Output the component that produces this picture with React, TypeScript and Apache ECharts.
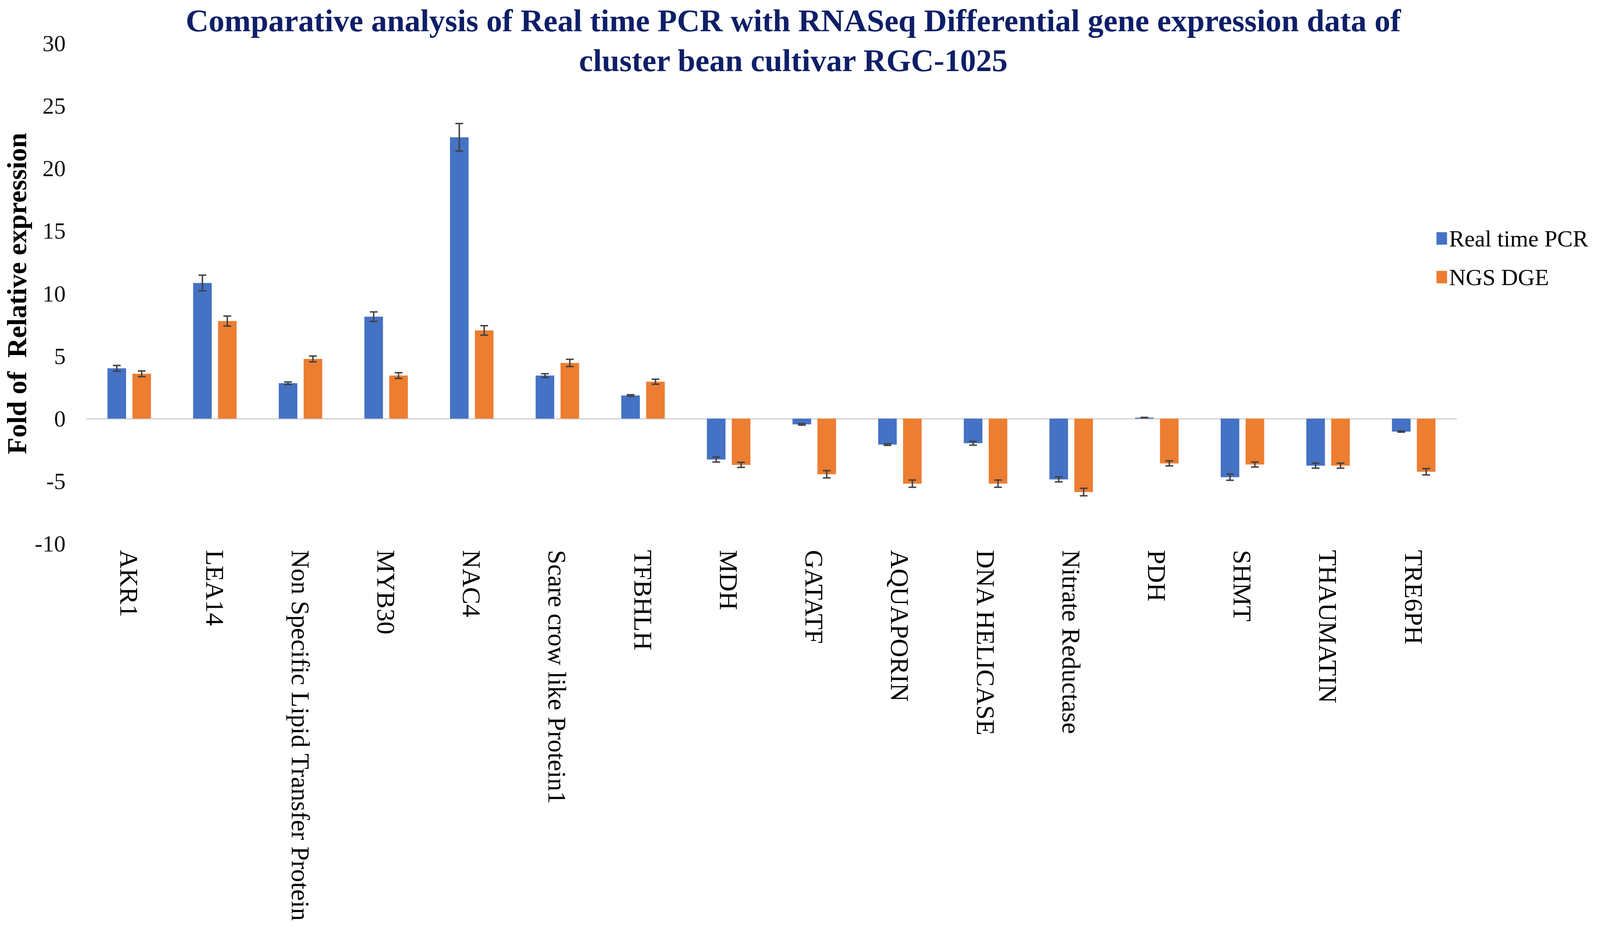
import React, { useEffect, useRef } from "react";
import * as echarts from "echarts";

const categories = [
  "AKR1",
  "LEA14",
  "Non Specific Lipid Transfer Protein",
  "MYB30",
  "NAC4",
  "Scare crow like Protein1",
  "TFBHLH",
  "MDH",
  "GATATF",
  "AQUAPORIN",
  "DNA HELICASE",
  "Nitrate Reductase",
  "PDH",
  "SHMT",
  "THAUMATIN",
  "TRE6PH",
];

const pcrValues = [4.02, 10.84, 2.83, 8.15, 22.49, 3.44, 1.85, -3.27, -0.46, -2.08, -1.97, -4.86, 0.08, -4.68, -3.76, -1.04];
const ngsValues = [3.58, 7.8, 4.77, 3.44, 7.05, 4.45, 2.95, -3.7, -4.45, -5.2, -5.2, -5.87, -3.58, -3.67, -3.76, -4.25];
const pcrErrors = [0.23, 0.63, 0.1, 0.38, 1.1, 0.15, 0.06, 0.2, 0.06, 0.06, 0.15, 0.2, 0.02, 0.25, 0.2, 0.04];
const ngsErrors = [0.23, 0.4, 0.23, 0.23, 0.38, 0.29, 0.2, 0.2, 0.29, 0.29, 0.29, 0.3, 0.2, 0.2, 0.2, 0.25];

const seriesNames = ["Real time PCR", "NGS DGE"];
const yTicks = { min: -10, max: 30, interval: 5 };

const FONT = "'Liberation Serif', 'Times New Roman', serif";
const BAR_W = 0.217;
const BAR_GAP = 0.34;
const REF_W = 4550;
const REF_H = 2399;

export default function App() {
  const ref = useRef<HTMLDivElement>(null);

  useEffect(() => {
    const el = ref.current;
    if (!el) return;
    const chart = echarts.init(el, undefined, { renderer: "svg" });
    const W = el.clientWidth || REF_W;
    const H = el.clientHeight || REF_H;
    const sx = W / REF_W;
    const sy = H / REF_H;
    const k = Math.min(sx, sy);
    const X = (v: number) => v * sx;
    const Y = (v: number) => v * sy;
    const F = (v: number) => v * k;
    const FV = (v: number) => v * Math.min(sy, sx * 1.12);

    const errData: number[][] = [];
    pcrValues.forEach((v, i) => errData.push([i, v - pcrErrors[i], v + pcrErrors[i], 0]));
    ngsValues.forEach((v, i) => errData.push([i, v - ngsErrors[i], v + ngsErrors[i], 1]));

    const offsetFrac = (BAR_W + BAR_W * BAR_GAP) / 2;

    const option: any = {
      animation: false,
      backgroundColor: "#ffffff",
      title: {
        text: "Comparative analysis of Real time PCR with RNASeq Differential gene expression data of\ncluster bean cultivar RGC-1025",
        left: X(2256),
        top: Y(2),
        textAlign: "center",
        padding: 0,
        textStyle: {
          fontFamily: FONT,
          fontWeight: "bold",
          fontSize: F(90),
          lineHeight: Y(102),
          color: "#0e1f68",
          align: "center",
        },
      },
      legend: {
        data: seriesNames,
        orient: "vertical",
        left: X(4085),
        top: Y(581),
        padding: 0,
        itemWidth: X(30),
        itemHeight: Y(32),
        itemGap: Y(40),
        itemStyle: { borderWidth: 0 },
        icon: "rect",
        textStyle: { fontFamily: FONT, fontSize: F(66), color: "#000000" },
        itemTextGap: X(17),
      },
      grid: { left: X(232), right: X(408), top: Y(111), bottom: Y(1007), containLabel: false },
      xAxis: [
        {
          type: "category",
          data: categories,
          position: "bottom",
          axisLine: { show: false, onZero: false },
          axisTick: { show: false },
          axisLabel: {
            rotate: -90,
            interval: 0,
            margin: Y(16),
            fontFamily: FONT,
            fontSize: FV(66),
            color: "#000000",
          },
          splitLine: { show: false },
        },
        {
          type: "category",
          data: categories,
          position: "bottom",
          axisLine: { show: true, onZero: true, lineStyle: { color: "#c8c8c8", width: Math.max(1, F(3)) } },
          axisTick: { show: false },
          axisLabel: { show: false },
          splitLine: { show: false },
        },
      ],
      yAxis: {
        type: "value",
        min: yTicks.min,
        max: yTicks.max,
        interval: yTicks.interval,
        name: "Fold of  Relative expression",
        nameLocation: "middle",
        nameRotate: 90,
        nameGap: X(158),
        nameTextStyle: { fontFamily: FONT, fontWeight: "bold", fontSize: FV(70), color: "#000000" },
        axisLine: { show: false },
        axisTick: { show: false },
        splitLine: { show: false },
        axisLabel: { fontFamily: FONT, fontSize: F(66), color: "#111111", margin: X(59) },
      },
      series: [
        {
          name: seriesNames[0],
          type: "bar",
          xAxisIndex: 0,
          data: pcrValues,
          barWidth: `${BAR_W * 100}%`,
          barGap: `${BAR_GAP * 100}%`,
          itemStyle: { color: "#4472C4" },
        },
        {
          name: seriesNames[1],
          type: "bar",
          xAxisIndex: 0,
          data: ngsValues,
          barWidth: `${BAR_W * 100}%`,
          barGap: `${BAR_GAP * 100}%`,
          itemStyle: { color: "#ED7D31" },
        },
        {
          name: "errors",
          type: "custom",
          xAxisIndex: 0,
          yAxisIndex: 0,
          z: 10,
          silent: true,
          data: errData,
          encode: { x: 0, y: [1, 2] },
          renderItem: (params: any, api: any) => {
            const idx = api.value(0);
            const lo = api.value(1);
            const hi = api.value(2);
            const s = api.value(3);
            const band = api.size([1, 0])[0];
            const x = api.coord([idx, 0])[0] + (s === 0 ? -1 : 1) * offsetFrac * band;
            const yLo = api.coord([idx, lo])[1];
            const yHi = api.coord([idx, hi])[1];
            const cap = X(11);
            const style = { stroke: "#404040", lineWidth: Math.max(1, F(4)) };
            return {
              type: "group",
              children: [
                { type: "line", shape: { x1: x, y1: yLo, x2: x, y2: yHi }, style },
                { type: "line", shape: { x1: x - cap, y1: yLo, x2: x + cap, y2: yLo }, style },
                { type: "line", shape: { x1: x - cap, y1: yHi, x2: x + cap, y2: yHi }, style },
              ],
            };
          },
        },
      ],
    };

    chart.setOption(option);
    return () => chart.dispose();
  }, []);

  return (
    <div
      ref={ref}
      style={{ position: "fixed", left: 0, top: 0, width: "100vw", height: "100vh", background: "#fff" }}
    />
  );
}
